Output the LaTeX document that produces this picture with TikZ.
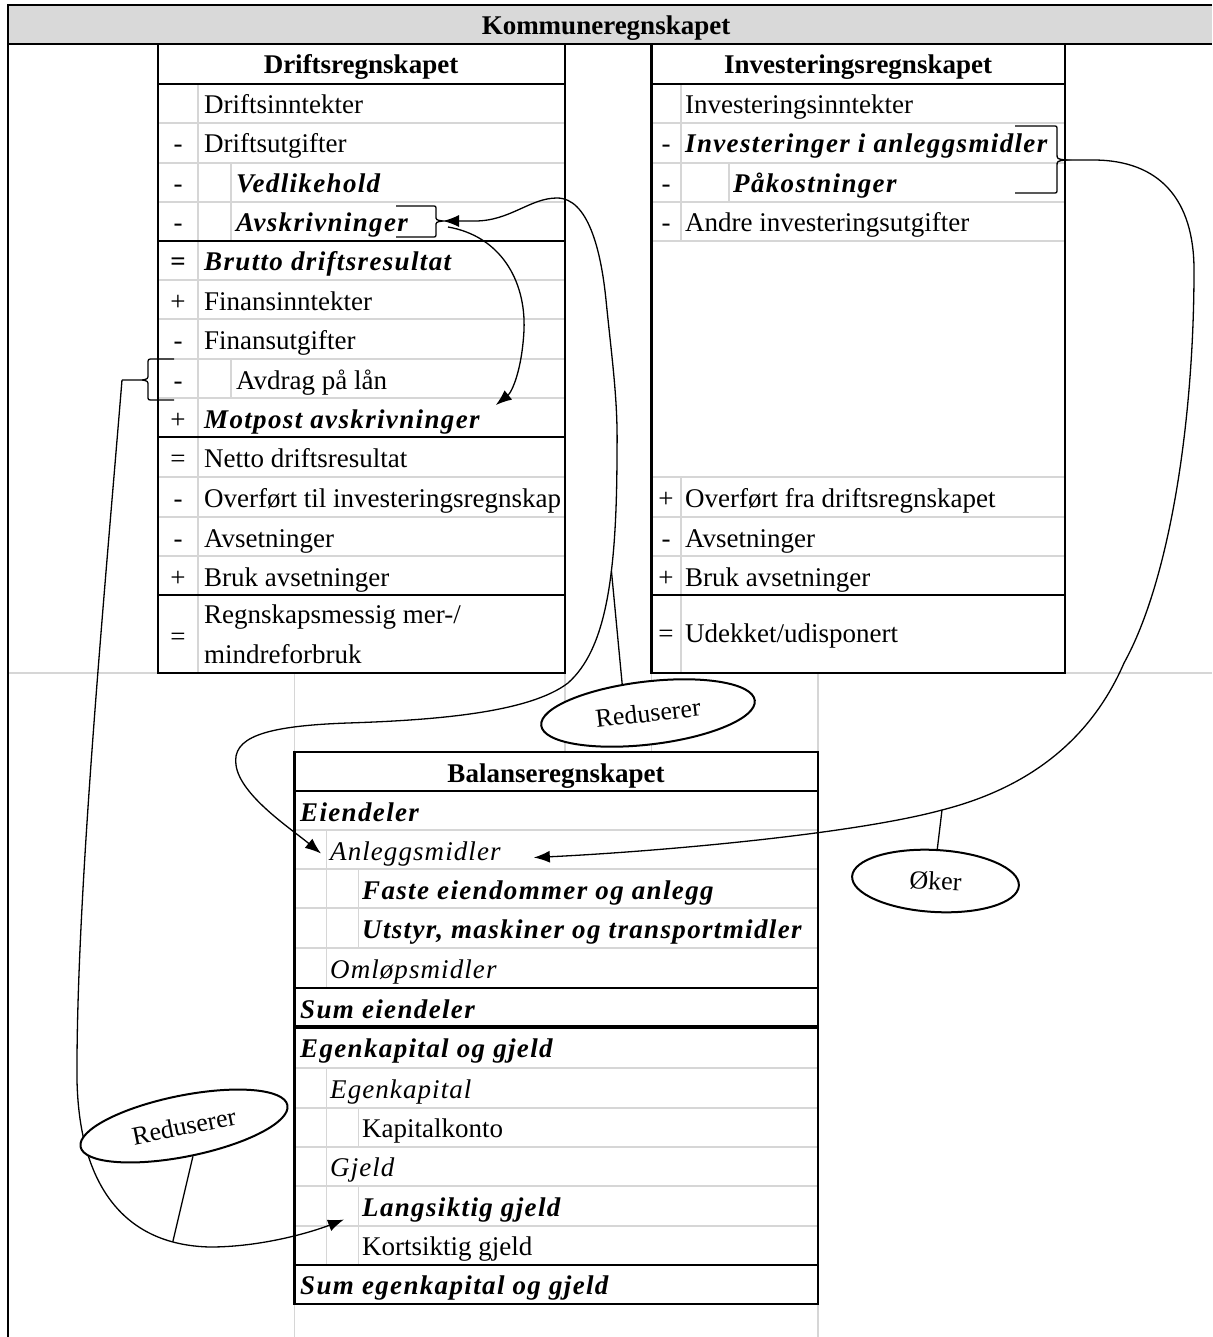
\documentclass[tikz,border=0pt]{standalone}
\usepackage{fontspec}
\setmainfont{Liberation Serif}
\usetikzlibrary{arrows.meta,shapes.geometric}

\tikzset{
  gridline/.style={draw=black!16,line width=1.3pt},
  ruleline/.style={draw=black,line width=2.4pt},
  cell/.style={anchor=base west,inner sep=0pt},
  signcell/.style={anchor=base,inner sep=0pt},
  headcell/.style={anchor=base,inner sep=0pt,font=\bfseries},
  bicell/.style={cell,font=\bfseries\itshape\addfontfeatures{LetterSpace=5}},
  itcell/.style={cell,font=\itshape\addfontfeatures{LetterSpace=4}},
  link/.style={draw=black,line width=1.3pt},
  arrowlink/.style={link,-{Latex[length=16pt,width=12pt]}},
  bothlink/.style={link,{Latex[length=16pt,width=12pt]}-{Latex[length=16pt,width=12pt]}},
  oval/.style={ellipse,draw,fill=white,line width=2pt,inner sep=0pt,
    font=\fontsize{26}{30}\selectfont},
}

\begin{document}
\begin{tikzpicture}[x=1pt,y=-1pt]
\fontsize{27}{40}\selectfont
\useasboundingbox (0,0) rectangle (1212,1337);

% sheet grid outside the tables
\draw[gridline] (7.7,673) -- (157.7,673);
\draw[gridline] (1065,673) -- (1212,673);
\foreach \x in {294.5,565,651.6,818}
  \draw[gridline] (\x,673) -- (\x,752);
\foreach \x in {294.5,818}
  \draw[gridline] (\x,1304) -- (\x,1337);

% Kommuneregnskapet header
\fill[black!15] (7.7,5) rectangle (1212,44);
\draw[ruleline] (1212,5) -- (7.7,5) -- (7.7,1337);
\draw[ruleline] (7.7,44) -- (1212,44);
\node[headcell] (kommune) at (606,35) {Kommuneregnskapet};

% Driftsregnskapet
\foreach \y in {123,163,202,280,319,359,398,477,517,556}
  \draw[gridline] (157.7,\y) -- (565,\y);
\draw[gridline] (198,84) -- (198,673);
\draw[gridline] (231,163) -- (231,241);
\draw[gridline] (231,359) -- (231,398);
\foreach \y in {84,241,437,595}
  \draw[ruleline] (157.7,\y) -- (565,\y);
\draw[ruleline] (157.7,44) rectangle (565,673);

\node[headcell] (drift) at (361,74) {Driftsregnskapet};
\foreach \y/\s [count=\i] in {153/-,193/-,232/-,310/+,349/-,389/-,428/+,467/=,507/-,547/-,586/+,645/=}
  \node[signcell] (dsign\i) at (178,\y) {\s};
\node[signcell,font=\bfseries] (dsignB) at (178,271) {=};
\node[cell] (dInnt) at (204,114) {Driftsinntekter};
\node[cell] (dUtg) at (204,153) {Driftsutgifter};
\node[bicell] (dVedl) at (236,193) {Vedlikehold};
\node[bicell] (dAvskr) at (236,232) {Avskrivninger};
\node[bicell] (dBrutto) at (204,271) {Brutto driftsresultat};
\node[cell] (dFinInn) at (204,310) {Finansinntekter};
\node[cell] (dFinUtg) at (204,349) {Finansutgifter};
\node[cell] (dAvdrag) at (236,389) {Avdrag på lån};
\node[bicell] (dMotpost) at (204,428) {Motpost avskrivninger};
\node[cell] (dNetto) at (204,467) {Netto driftsresultat};
\node[cell] (dOverf) at (204,507) {Overført til investeringsregnskap};
\node[cell] (dAvs) at (204,547) {Avsetninger};
\node[cell] (dBruk) at (204,586) {Bruk avsetninger};
\node[cell,anchor=west,align=left] (dResultat) at (204,634) {Regnskapsmessig mer-/\\mindreforbruk};

% Investeringsregnskapet
\foreach \y in {123,163,202,241,477,517,556}
  \draw[gridline] (651.6,\y) -- (1065,\y);
\draw[gridline] (681,84) -- (681,241);
\draw[gridline] (681,477) -- (681,673);
\draw[gridline] (729,163) -- (729,202);
\foreach \y in {84,595}
  \draw[ruleline] (651.6,\y) -- (1065,\y);
\draw[ruleline] (651.6,44) rectangle (1065,673);

\node[headcell] (invest) at (858,74) {Investeringsregnskapet};
\foreach \y/\s [count=\i] in {153/-,193/-,232/-,507/+,547/-,586/+,642/=}
  \node[signcell] (isign\i) at (666,\y) {\s};
\node[cell] (iInnt) at (685,114) {Investeringsinntekter};
\node[bicell] (iAnl) at (685,153) {Investeringer i anleggsmidler};
\node[bicell] (iPak) at (733,193) {Påkostninger};
\node[cell] (iAndre) at (685,232) {Andre investeringsutgifter};
\node[cell] (iOverf) at (685,507) {Overført fra driftsregnskapet};
\node[cell] (iAvs) at (685,547) {Avsetninger};
\node[cell] (iBruk) at (685,586) {Bruk avsetninger};
\node[cell] (iUdek) at (685,642) {Udekket/udisponert};

% Balanseregnskapet
\foreach \y in {830,869,908,948,1068,1108,1147,1186,1226}
  \draw[gridline] (294.5,\y) -- (818,\y);
\draw[gridline] (326.6,830) -- (326.6,988);
\draw[gridline] (326.6,1068) -- (326.6,1265);
\draw[gridline] (358.7,869) -- (358.7,948);
\draw[gridline] (358.7,1108) -- (358.7,1147);
\draw[gridline] (358.7,1186) -- (358.7,1265);
\foreach \y in {791,988,1265}
  \draw[ruleline] (294.5,\y) -- (818,\y);
\draw[ruleline,line width=3.4pt] (294.5,1027) -- (818,1027);
\draw[ruleline] (294.5,752) rectangle (818,1304);

\node[headcell] (balanse) at (556,782) {Balanseregnskapet};
\node[bicell] (bEien) at (300,821) {Eiendeler};
\node[itcell] (bAnl) at (330,860) {Anleggsmidler};
\node[bicell] (bFaste) at (362,899) {Faste eiendommer og anlegg};
\node[bicell] (bUtstyr) at (362,938) {Utstyr, maskiner og transportmidler};
\node[itcell] (bOmlop) at (330,978) {Omløpsmidler};
\node[bicell] (bSumEien) at (300,1018) {Sum eiendeler};
\node[bicell] (bEgGj) at (300,1057) {Egenkapital og gjeld};
\node[itcell] (bEgen) at (330,1098) {Egenkapital};
\node[cell] (bKap) at (362,1137) {Kapitalkonto};
\node[itcell] (bGjeld) at (330,1176) {Gjeld};
\node[bicell] (bLang) at (362,1216) {Langsiktig gjeld};
\node[cell] (bKort) at (362,1255) {Kortsiktig gjeld};
\node[bicell] (bSumEg) at (300,1294) {Sum egenkapital og gjeld};

% braces
\draw[link] (396,206) -- (432,206) .. controls (436,206) .. (436,210) -- (436,216)
  .. controls (436,220) .. (443,221) .. controls (436,222) .. (436,226) -- (436,233)
  .. controls (436,237) .. (432,237) -- (396,237);
\coordinate (avTip) at (443,221);
\draw[link] (1015,126) -- (1053,126) .. controls (1057,126) .. (1057,130) -- (1057,154)
  .. controls (1057,159) .. (1066,160) .. controls (1057,161) .. (1057,166) -- (1057,189)
  .. controls (1057,193) .. (1053,193) -- (1015,193);
\coordinate (invTip) at (1066,160);
\draw[link] (174,359) -- (153,359) .. controls (148,359) .. (148,364) -- (148,374)
  .. controls (148,379) .. (142,380) -- (122,380) -- (142,380)
  .. controls (148,381) .. (148,386) -- (148,396) .. controls (148,400) .. (153,400) -- (174,400);
\coordinate (avdTip) at (122,380);

% connectors
\draw[bothlink] (avTip) -- (475,221) .. controls (510,221) and (530,198) .. (557,198)
  .. controls (588,198) and (601,250) .. (606,300)
  .. controls (612,360) and (618,400) .. (617,450)
  .. controls (617,580) and (605,650) .. (568,683) coordinate[pos=0.37] (redJoin)
  .. controls (530,712) and (440,720) .. (348,723)
  .. controls (262,726) and (232,738) .. (236,765)
  .. controls (240,795) and (290,828) .. ([xshift=-9pt]bAnl.west);
\draw[arrowlink] ([shift={(5pt,-6pt)}]avTip) .. controls (500,236) and (526,280) .. (524,330)
  .. controls (522,370) and (512,392) .. ([xshift=16pt,yshift=4pt]dMotpost.north east);
\draw[arrowlink] (avdTip) .. controls (104,600) and (76,900) .. (77,1080)
  .. controls (79,1180) and (120,1245) .. (210,1247) coordinate[pos=0.85] (lowJoin)
  .. controls (262,1247) and (312,1232) .. ([xshift=-18pt,yshift=-10pt]bLang.west);
\draw[arrowlink] (invTip) -- (1093,160) .. controls (1160,160) and (1194,200) .. (1194,270)
  .. controls (1194,420) and (1170,580) .. (1124,663)
  .. controls (1095,730) and (1040,785) .. (942,810) coordinate (okerJoin)
  .. controls (850,835) and (650,852) .. ([xshift=33pt,yshift=-4pt]bAnl.east);

% labels on the connectors
\node[oval,minimum width=215pt,minimum height=63pt,rotate=6.7] (redMid) at (648,713) {Reduserer};
\node[oval,minimum width=211pt,minimum height=61pt,rotate=11.4] (redLow) at (184,1126) {Reduserer};
\node[oval,minimum width=167pt,minimum height=62pt,rotate=-3.2] (oker) at (935.5,881) {Øker};
\draw[link] (redMid.125) -- (redJoin);
\draw[link] (redLow.275) -- (lowJoin);
\draw[link] (oker.north) -- (okerJoin);
\end{tikzpicture}
\end{document}
